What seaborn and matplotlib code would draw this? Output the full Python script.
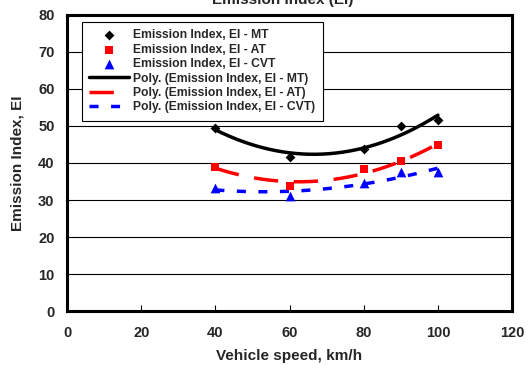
import numpy as np
import pandas as pd
import matplotlib
matplotlib.use("Agg")
import matplotlib.pyplot as plt
import seaborn as sns

speed = [40, 60, 80, 90, 100]
ei_mt = [49.5, 41.5, 43.8, 50.0, 51.5]
ei_at = [39.0, 33.8, 38.3, 40.5, 44.8]
ei_cvt = [33.2, 31.1, 34.7, 37.6, 37.6]

sns.set_theme(style="white")
plt.rcParams['font.family'] = ['Liberation Sans', 'DejaVu Sans']
plt.rcParams['font.weight'] = 'bold'

fig = plt.figure(figsize=(5.29, 3.71), dpi=100)
ax = fig.add_axes([0.1267, 0.1617, 0.8413, 0.7979])

series = [
    ("MT", ei_mt, "black", "D", 5, None),
    ("AT", ei_at, "red", "s", 6, (0, (7, 4.5))),
    ("CVT", ei_cvt, "blue", "^", 7, (0, (2.6, 3.6))),
]

xs = np.linspace(40, 100, 200)
for name, vals, col, mk, ms, dash in series:
    df = pd.DataFrame({"speed": speed, "ei": vals})
    sns.scatterplot(data=df, x="speed", y="ei", ax=ax, color=col, marker=mk,
                    s=ms**2, edgecolor=col, linewidth=0, zorder=4,
                    label=f"Emission Index, EI - {name}")
for name, vals, col, mk, ms, dash in series:
    c = np.polyfit(speed, vals, 2)
    fit = pd.DataFrame({"speed": xs, "ei": np.polyval(c, xs)})
    sns.lineplot(data=fit, x="speed", y="ei", ax=ax, color=col, linewidth=2.5,
                 label=f"Poly. (Emission Index, EI - {name})", zorder=3)
    if dash is not None:
        ax.lines[-1].set_linestyle(dash)

ax.set_xlim(0, 120)
ax.set_ylim(0, 80)
ax.set_xticks(range(0, 121, 20))
ax.set_yticks(range(0, 81, 10))
ax.yaxis.grid(True, color="black", linewidth=0.8)
ax.xaxis.grid(False)
ax.set_axisbelow(True)
for s in ax.spines.values():
    s.set_color("black")
    s.set_linewidth(2.2)
ax.tick_params(axis="x", direction="in", length=4, width=0.8, color="black",
               labelsize=10.5, pad=11, bottom=True)
ax.tick_params(axis="y", direction="in", length=0, labelsize=10.5, pad=9, left=True)
for lab in ax.get_xticklabels() + ax.get_yticklabels():
    lab.set_fontweight("bold")
ax.set_xlabel("Vehicle speed, km/h", fontsize=11, fontweight="bold", labelpad=6)
ax.set_ylabel("Emission Index, EI", fontsize=11, fontweight="bold", labelpad=10)

leg = ax.legend(loc="upper left", bbox_to_anchor=(0.0337, 0.976), fontsize=8.7,
                frameon=True, fancybox=False, edgecolor="black", framealpha=1,
                handlelength=3.3, handletextpad=0.35, labelspacing=0.2,
                borderpad=0.6, borderaxespad=0)
leg.get_frame().set_linewidth(0.8)
for t in leg.get_texts():
    t.set_fontweight("bold")

fig.text(0.535, 1.0, "Emission Index (EI)", ha="center", va="center",
         fontsize=11, fontweight="bold")

fig.savefig("out.png", dpi=100)
